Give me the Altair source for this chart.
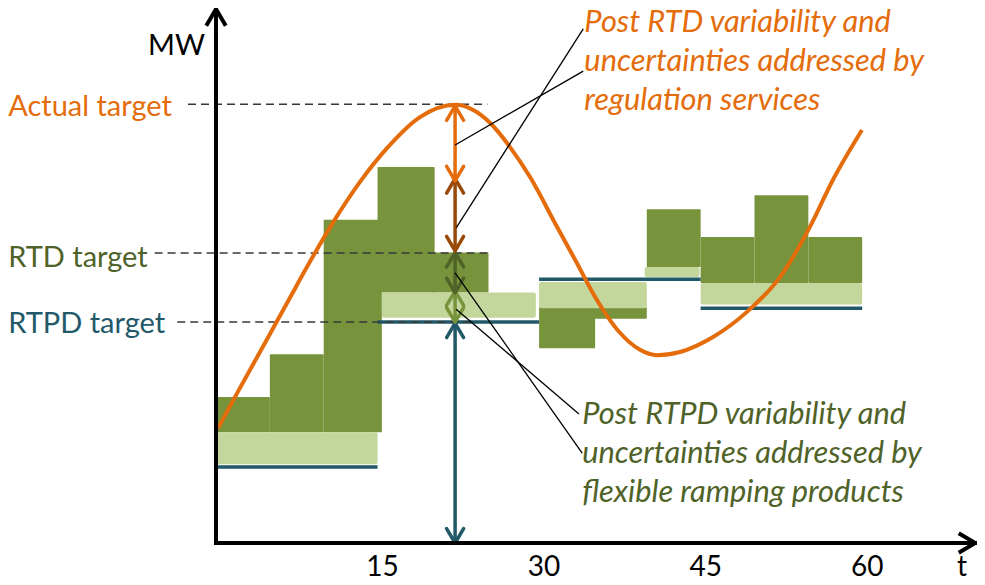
import altair as alt
import pandas as pd

# ---------------- data ----------------
# RTPD 15-minute targets (teal lines)
rtpd_start = [0, 15, 30, 45]
rtpd_end = [15, 30, 45, 60]
rtpd_target = [14.2, 41.3, 49.3, 43.9]

# flexible ramping bands (light green)
frp_start = [0, 15.4, 30, 39.8, 45]
frp_end = [15, 29.7, 40, 44.9, 60]
frp_low = [14.7, 42.1, 43.9, 49.7, 44.6]
frp_high = [20.7, 46.8, 48.8, 51.6, 48.6]

# RTD 5-minute steps (dark green)
rtd_start = [0, 5, 10, 15, 20, 30, 35, 40, 45, 50, 55]
rtd_end = [5, 10, 15.4, 20.3, 25.3, 35.2, 40, 45, 50, 55, 60]
rtd_low = [20.7, 20.7, 20.7, 46.8, 46.8, 36.4, 41.9, 51.6, 48.6, 48.6, 48.6]
rtd_high = [27.3, 35.3, 60.4, 70.3, 54.3, 44.1, 44.1, 62.4, 57.2, 65.0, 57.2]

# actual target curve
curve_t = [0.19, 2.23, 4.74, 6.69, 8.73, 10.77, 13.37, 15.88, 18.94, 22.21, 25.46, 27.30, 29.16,
           31.66, 33.52, 35.00, 37.51, 39.37, 40.95, 43.08, 46.15, 49.30, 52.37, 55.15, 57.29, 59.98]
curve_mw = [21.5, 29.0, 38.1, 45.2, 52.6, 59.6, 67.5, 73.8, 79.6, 81.9, 78.5, 74.0, 68.4,
            59.1, 52.3, 46.7, 39.3, 36.1, 35.1, 35.7, 38.5, 43.2, 49.7, 59.1, 67.9, 77.2]

# vertical double arrows at t = 22.2
arrow_t = 22.2
seg_name = ["reg_upper", "reg_lower", "rtd_to_frp", "frp", "rtpd"]
seg_low = [67.7, 54.6, 46.8, 41.3, 0.0]
seg_high = [81.7, 68.1, 54.3, 47.1, 41.1]

# leader lines
lead_t1 = [34.1, 34.1, 22.2, 22.3]
lead_mw1 = [96.1, 88.2, 50.5, 43.7]
lead_t2 = [22.3, 22.2, 34.0, 33.7]
lead_mw2 = [58.9, 74.4, 16.8, 24.1]

# dashed target guides
guide_label = ["Actual target", "RTD target", "RTPD target"]
guide_mw = [82.0, 54.2, 41.3]
guide_t0 = [-2.6, -5.7, -3.6]
guide_t1 = [25.2, 25.2, 24.2]
label_mw = [79.8, 51.6, 39.25]
label_t = -19.3

# annotation texts
reg_lines = ["Post RTD variability and", "uncertainties addressed by", "regulation services"]
reg_mw = [95.6, 88.2, 80.9]
reg_t = 34.2
frp_lines = ["Post RTPD variability and", "uncertainties addressed by", "flexible ramping products"]
frp_mw = [22.2, 15.0, 7.7]
frp_t = 34.0

tick_t = [15, 30, 45, 60]
tick_mw = -6.2

# ---------------- styling ----------------
FONT = "Lato"
FS = 29
FS_IT = 30.8
ORANGE = "#E46C0A"
BROWN = "#984807"
DKGREEN = "#77933C"
LTGREEN = "#C3D69B"
OLIVE = "#4F6228"
TEAL = "#215968"

xs = alt.Scale(domain=[0, 70.66], nice=False, zero=False)
ys = alt.Scale(domain=[0, 100], nice=False, zero=False)
seg_colors = alt.Scale(domain=seg_name, range=[ORANGE, BROWN, OLIVE, DKGREEN, TEAL])
label_colors = [ORANGE, OLIVE, TEAL]

UP = "M-1,1.7L0,0L1,1.7"
DOWN = "M-1,-1.7L0,0L1,-1.7"
RIGHT = "M-1.7,-1L0,0L-1.7,1"


def X(f):
    return alt.X(f, type="quantitative", scale=xs, axis=None)


def Y(f):
    return alt.Y(f, type="quantitative", scale=ys, axis=None)


rtd_df = pd.DataFrame({"t0": rtd_start, "t1": rtd_end, "lo": rtd_low, "hi": rtd_high})
frp_df = pd.DataFrame({"t0": frp_start, "t1": frp_end, "lo": frp_low, "hi": frp_high})
rtpd_df = pd.DataFrame({"t0": rtpd_start, "t1": rtpd_end, "mw": rtpd_target})
curve_df = pd.DataFrame({"t": curve_t, "mw": curve_mw})
seg_df = pd.DataFrame({"seg": seg_name, "lo": seg_low, "hi": seg_high, "t": [arrow_t] * len(seg_name)})
lead_df = pd.DataFrame({"t0": lead_t1, "m0": lead_mw1, "t1": lead_t2, "m1": lead_mw2})
guide_df = pd.DataFrame({"label": guide_label, "mw": guide_mw, "t0": guide_t0, "t1": guide_t1,
                         "lmw": label_mw, "lt": [label_t] * 3})
reg_df = pd.DataFrame({"txt": reg_lines, "mw": reg_mw, "t": [reg_t] * 3})
frp_txt_df = pd.DataFrame({"txt": frp_lines, "mw": frp_mw, "t": [frp_t] * 3})
tick_df = pd.DataFrame({"t": tick_t, "mw": [tick_mw] * 4, "txt": [str(v) for v in tick_t]})
axis_df = pd.DataFrame({"t0": [0, 0], "m0": [0, 0], "t1": [0, 70.5], "m1": [99.8, 0]})

rtd_layer = alt.Chart(rtd_df).mark_rect(color=DKGREEN, cornerRadius=1).encode(
    x=X("t0"), x2="t1", y=Y("lo"), y2="hi")
frp_layer = alt.Chart(frp_df).mark_rect(color=LTGREEN, cornerRadius=2).encode(
    x=X("t0"), x2="t1", y=Y("lo"), y2="hi")
rtpd_layer = alt.Chart(rtpd_df).mark_rule(color=TEAL, strokeWidth=3.5).encode(
    x=X("t0"), x2="t1", y=Y("mw"))
guide_layer = alt.Chart(guide_df).mark_rule(color="#383838", strokeWidth=1.6, strokeDash=[8, 5]).encode(
    x=X("t0"), x2="t1", y=Y("mw"))
curve_layer = alt.Chart(curve_df).mark_line(color=ORANGE, strokeWidth=4, interpolate="monotone").encode(
    x=X("t"), y=Y("mw"))
shaft_layer = alt.Chart(seg_df).mark_rule(strokeWidth=3.5).encode(
    x=X("t"), y=Y("lo"), y2="hi", color=alt.Color("seg:N", scale=seg_colors, legend=None))
head_up = alt.Chart(seg_df).mark_point(shape=UP, filled=False, size=289, strokeWidth=3.5,
                                       strokeCap="round", strokeJoin="round", opacity=1).encode(
    x=X("t"), y=Y("hi"), color=alt.Color("seg:N", scale=seg_colors, legend=None))
head_down = alt.Chart(seg_df).mark_point(shape=DOWN, filled=False, size=289, strokeWidth=3.5,
                                         strokeCap="round", strokeJoin="round", opacity=1).encode(
    x=X("t"), y=Y("lo"), color=alt.Color("seg:N", scale=seg_colors, legend=None))
lead_layer = alt.Chart(lead_df).mark_rule(color="black", strokeWidth=1.3).encode(
    x=X("t0"), y=Y("m0"), x2="t1", y2="m1")
axis_layer = alt.Chart(axis_df).mark_rule(color="black", strokeWidth=4, strokeCap="square").encode(
    x=X("t0"), y=Y("m0"), x2="t1", y2="m1")
y_head = alt.Chart(axis_df.iloc[[0]]).mark_point(shape=UP, filled=False, size=380, strokeWidth=4,
                                                 color="black", opacity=1, strokeJoin="miter").encode(
    x=X("t1"), y=Y("m1"))
x_head = alt.Chart(axis_df.iloc[[1]]).mark_point(shape=RIGHT, filled=False, size=380, strokeWidth=4,
                                                 color="black", opacity=1, strokeJoin="miter").encode(
    x=X("t1"), y=Y("m1"))

label_layers = [
    alt.Chart(guide_df).transform_filter(alt.datum.label == name).mark_text(
        font=FONT, fontSize=FS, align="left", baseline="alphabetic", color=col).encode(
        x=X("lt"), y=Y("lmw"), text="label:N")
    for name, col in zip(guide_label, label_colors)
]
reg_text = alt.Chart(reg_df).mark_text(font=FONT, fontSize=FS_IT, fontStyle="italic", align="left",
                                       baseline="alphabetic", color=ORANGE).encode(
    x=X("t"), y=Y("mw"), text="txt:N")
frp_text = alt.Chart(frp_txt_df).mark_text(font=FONT, fontSize=FS_IT, fontStyle="italic", align="left",
                                           baseline="alphabetic", color=OLIVE).encode(
    x=X("t"), y=Y("mw"), text="txt:N")
tick_text = alt.Chart(tick_df).mark_text(font=FONT, fontSize=28, align="center", baseline="alphabetic",
                                         color="black", dx=5).encode(
    x=X("t"), y=Y("mw"), text="txt:N")
t_text = alt.Chart(pd.DataFrame({"t": [69.27], "mw": [tick_mw], "txt": ["t"]})).mark_text(
    font=FONT, fontSize=28, align="center", baseline="alphabetic", color="black").encode(
    x=X("t"), y=Y("mw"), text="txt:N")
mw_text = alt.Chart(pd.DataFrame({"t": [-6.31], "mw": [91.2], "txt": ["MW"]})).mark_text(
    font=FONT, fontSize=FS, align="left", baseline="alphabetic", color="black").encode(
    x=X("t"), y=Y("mw"), text="txt:N")

chart = alt.layer(
    rtd_layer, frp_layer, rtpd_layer, guide_layer, curve_layer,
    shaft_layer, head_up, head_down, lead_layer, axis_layer, y_head, x_head,
    *label_layers, reg_text, frp_text, tick_text, t_text, mw_text,
).resolve_scale(color="independent").properties(
    width=761, height=535,
    autosize=alt.AutoSizeParams(type="none"),
    padding={"left": 208, "top": 0, "right": 0, "bottom": 34},
).configure_view(stroke=None)

chart.save("out.html", embed_options={"renderer": "svg", "actions": False})
